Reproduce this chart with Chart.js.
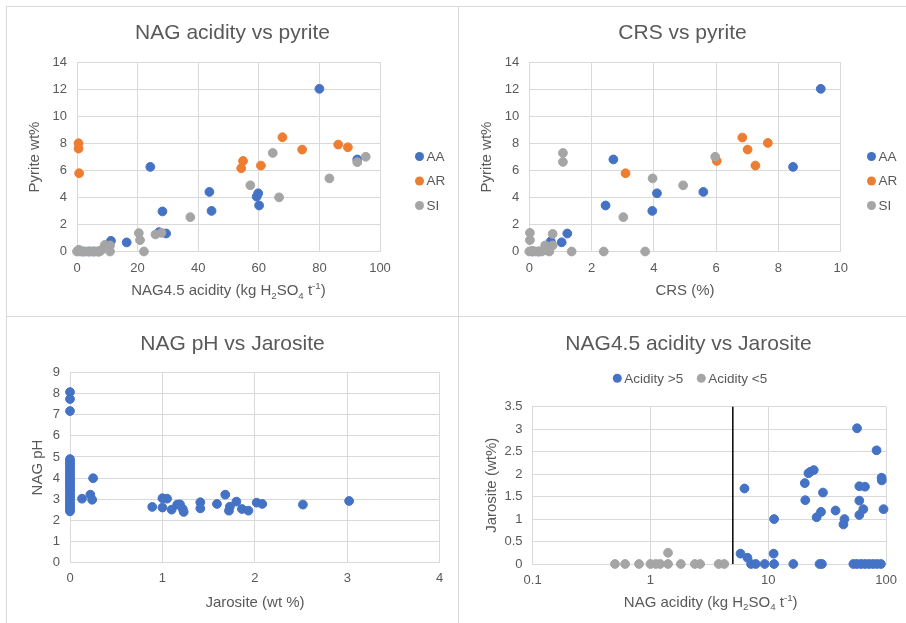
<!DOCTYPE html>
<html><head><meta charset="utf-8">
<script src="https://cdn.jsdelivr.net/npm/chart.js@4/dist/chart.umd.min.js"></script>
<style>
html,body{margin:0;padding:0;background:#fff;}
#wrap{position:relative;width:906px;height:623px;overflow:hidden;background:#fff;}
.panel{position:absolute;border:1px solid #d9d9d9;box-sizing:border-box;}
canvas{position:absolute;left:0;top:0;}
</style></head><body>
<div id="wrap">
<div class="panel" style="left:6px;top:6px;width:453px;height:311px"></div>
<div class="panel" style="left:458px;top:6px;width:460px;height:311px"></div>
<div class="panel" style="left:6px;top:316px;width:453px;height:320px"></div>
<div class="panel" style="left:458px;top:316px;width:460px;height:320px"></div>
<canvas id="c1" width="906" height="623"></canvas>
<canvas id="c2" width="906" height="623"></canvas>
<canvas id="c3" width="906" height="623"></canvas>
<canvas id="c4" width="906" height="623"></canvas>
</div>
<script>
// ---------- DATA ----------
// Panel 1: NAG4.5 acidity vs pyrite
const nagAA_x = [80, 24.2, 92.5, 43.7, 44.4, 59.8, 59.3, 60.1, 28.2, 27.1, 29.4, 11.2, 16.4, 2, 4, 5.5, 7];
const nagAA_y = [12.02, 6.25, 6.8, 4.4, 3.0, 4.3, 4.05, 3.4, 2.96, 1.43, 1.33, 0.79, 0.67, 0, 0, 0, 0];
const nagAR_x = [0.5, 0.5, 0.7, 67.8, 74.3, 86.2, 89.4, 54.8, 54.2, 60.7];
const nagAR_y = [8.0, 7.6, 5.78, 8.44, 7.53, 7.9, 7.7, 6.69, 6.15, 6.35];
const nagSI_x = [64.6, 95.3, 92.5, 83.3, 57.2, 66.7, 37.4, 20.4, 20.8, 22.1, 25.9, 27.9, 9.2, 10.9, 10.9, 0.6, 0, 1, 2, 3, 4, 5, 6, 7, 8, 7.5];
const nagSI_y = [7.28, 7.0, 6.6, 5.4, 4.89, 4.0, 2.54, 1.36, 0.84, 0, 1.26, 1.38, 0.49, 0.45, 0, 0.13, 0, 0, 0, 0, 0, 0, 0, 0, 0.1, 0];
// Panel 2: CRS vs pyrite
const crsAA_x = [9.36, 8.47, 2.7, 5.59, 4.1, 3.95, 2.45, 1.22, 1.04, 0.69, 0.1, 0.3];
const crsAA_y = [12.02, 6.25, 6.8, 4.4, 4.3, 3.0, 3.4, 1.33, 0.68, 0.75, 0, 0];
const crsAR_x = [6.84, 7.66, 7.01, 7.26, 6.02, 3.09];
const crsAR_y = [8.42, 8.02, 7.53, 6.35, 6.69, 5.78];
const crsSI_x = [1.08, 1.08, 5.97, 3.96, 4.94, 3.02, 0.75, 0.02, 0.02, 0.75, 0.51, 1.36, 2.39, 3.72, 0.64, 0, 0.1, 0.2, 0.3, 0.4, 0.5, 0.55];
const crsSI_y = [7.28, 6.62, 7.0, 5.4, 4.89, 2.54, 1.3, 1.38, 0.84, 0.45, 0.45, 0, 0, 0, 0, 0, 0.05, 0, 0, 0, 0.1, 0.2];
// Panel 3: NAG pH vs Jarosite
const jarX = [0, 0, 0, 0, 0, 0, 0, 0, 0, 0, 0, 0, 0, 0, 0, 0, 0, 0, 0, 0, 0, 0, 0, 0, 0, 0, 0, 0, 0,
  0.13, 0.22, 0.24, 0.25, 0.89, 1.0, 1.05, 1.0, 1.1, 1.16, 1.19, 1.22, 1.23, 1.41, 1.41, 1.59, 1.68, 1.73, 1.72, 1.8, 1.86, 1.93, 2.02, 2.08, 2.52, 3.02];
const phY = [8.08, 7.75, 7.18, 4.9, 4.8, 4.7, 4.6, 4.5, 4.4, 4.3, 4.2, 4.1, 4.0, 3.9, 3.8, 3.7, 3.6, 3.5, 3.4, 3.3, 3.2, 3.1, 3.0, 2.9, 2.8, 2.7, 2.6, 2.5, 2.42,
  3.02, 3.21, 2.97, 3.99, 2.63, 3.04, 3.02, 2.6, 2.5, 2.74, 2.75, 2.53, 2.39, 2.85, 2.56, 2.77, 3.21, 2.64, 2.45, 2.88, 2.53, 2.45, 2.83, 2.77, 2.74, 2.91];
// Panel 4: NAG acidity vs Jarosite (log x)
const hiAcid_x = [5.81, 6.65, 6.28, 7.14, 7.82, 9.31, 11.2, 11.1, 11.2, 16.3, 20.4, 20.6, 21.9, 22.7, 24.3, 25.7, 28.0, 29.1, 27.2, 28.5, 37.2, 43.4, 44.3, 56.6, 82.9, 59.2, 66.1, 59.2, 64.0, 59.2, 91.4, 91.9, 95.0,
  52.7, 56.6, 61.2, 66.1, 71.4, 77.2, 83.4, 90.2];
const hiJar_y = [0.23, 0.14, 1.68, 0, 0, 0, 0, 0.23, 1.0, 0, 1.8, 1.42, 2.02, 2.05, 2.09, 1.04, 1.16, 1.59, 0, 0, 1.19, 0.88, 1.0, 3.02, 2.53, 1.73, 1.72, 1.41, 1.22, 1.09, 1.92, 1.86, 1.22,
  0, 0, 0, 0, 0, 0, 0, 0];
const loAcid_x = [0.50, 0.61, 0.80, 1.0, 1.11, 1.21, 1.41, 1.81, 2.38, 2.64, 3.79, 4.23, 1.41];
const loJar_y = [0, 0, 0, 0, 0, 0, 0, 0, 0, 0, 0, 0, 0.25];
const cutoffX = [5, 5];
const cutoffY = [0, 3.5];
// Tick labels
const p1XTicks = [0, 20, 40, 60, 80, 100];
const p1YTicks = [0, 2, 4, 6, 8, 10, 12, 14];
const p2XTicks = [0, 2, 4, 6, 8, 10];
const p2YTicks = [0, 2, 4, 6, 8, 10, 12, 14];
const p3XTicks = [0, 1, 2, 3, 4];
const p3YTicks = [0, 1, 2, 3, 4, 5, 6, 7, 8, 9];
const p4XTicks = [0.1, 1, 10, 100];
const p4YTicks = [0, 0.5, 1, 1.5, 2, 2.5, 3, 3.5];

// ---------- STYLE ----------
const FONT = '"Liberation Sans", Arial, sans-serif';
const TXT = '#595959', GRID = '#d9d9d9';
const BLUE = '#4472C4', ORANGE = '#ED7D31', GRAY = '#A5A5A5';
const W = 906, H = 623;

function pts(xs, ys) { return xs.map((x, i) => ({ x: x, y: ys[i] })); }

function richWidth(ctx, segs, size) {
  let w = 0;
  segs.forEach(s => {
    const fs = s[1] ? size * 0.65 : size;
    ctx.font = fs + 'px ' + FONT;
    w += ctx.measureText(s[0]).width;
  });
  return w;
}
function drawRich(ctx, segs, cx, y, size) {
  const w = richWidth(ctx, segs, size);
  let x = cx - w / 2;
  ctx.textAlign = 'left';
  segs.forEach(s => {
    const fs = s[1] ? size * 0.65 : size;
    ctx.font = fs + 'px ' + FONT;
    const dy = s[1] === 'sub' ? size * 0.25 : (s[1] === 'sup' ? -size * 0.4 : 0);
    ctx.fillText(s[0], x, y + dy);
    x += ctx.measureText(s[0]).width;
  });
}

const deco = {
  id: 'deco',
  afterDraw(chart, args, o) {
    const ctx = chart.ctx;
    ctx.save();
    ctx.fillStyle = TXT;
    if (o.title) {
      ctx.font = '21px ' + FONT;
      ctx.textAlign = 'center';
      ctx.textBaseline = 'alphabetic';
      ctx.fillText(o.title.text, o.title.x, o.title.y);
    }
    (o.legend || []).forEach(it => {
      ctx.beginPath();
      ctx.fillStyle = it.c;
      ctx.arc(it.x, it.y, 4.5, 0, Math.PI * 2);
      ctx.fill();
      ctx.fillStyle = TXT;
      ctx.font = '13.5px ' + FONT;
      ctx.textAlign = 'left';
      ctx.textBaseline = 'middle';
      ctx.fillText(it.t, it.x + 7, it.y + 0.5);
    });
    if (o.ytitle) {
      ctx.save();
      ctx.translate(o.ytitle.x, o.ytitle.y);
      ctx.rotate(-Math.PI / 2);
      ctx.textBaseline = 'middle';
      drawRich(ctx, o.ytitle.segs, 0, 0, 15);
      ctx.restore();
    }
    if (o.xtitle) {
      ctx.textBaseline = 'alphabetic';
      drawRich(ctx, o.xtitle.segs, o.xtitle.x, o.xtitle.y, 15);
    }
    ctx.restore();
  }
};

function axis(type, min, max, ticks, pad, fit) {
  return {
    type: type, min: min, max: max,
    afterBuildTicks(s) { s.ticks = ticks.map(v => ({ value: v })); },
    afterFit: fit,
    ticks: { color: TXT, font: { family: FONT, size: 13 }, padding: pad, callback: v => String(v), autoSkip: false, maxRotation: 0 },
    grid: { color: GRID, lineWidth: 1, drawTicks: false },
    border: { color: GRID, width: 1 }
  };
}

function ds(label, xs, ys, color, order) {
  return { label: label, data: pts(xs, ys), backgroundColor: color, borderColor: color, borderWidth: 1,
    pointRadius: 4.4, pointHoverRadius: 4.4, showLine: false, clip: false, order: order };
}

function makeChart(id, area, xs, ys, datasets, d) {
  return new Chart(document.getElementById(id), {
    type: 'scatter',
    data: { datasets: datasets },
    options: {
      responsive: false, animation: false, events: [],
      layout: { padding: { left: 0, top: area.t, right: W - area.r, bottom: 0 } },
      scales: {
        x: Object.assign(xs, { position: 'bottom', afterFit(s) { s.height = H - area.b; } }),
        y: Object.assign(ys, { position: 'left', afterFit(s) { s.width = area.l; } })
      },
      plugins: { legend: { display: false }, title: { display: false }, tooltip: { enabled: false }, deco: d }
    },
    plugins: [deco]
  });
}

const xt1 = [['NAG4.5 acidity (kg H'], ['2', 'sub'], ['SO'], ['4', 'sub'], [' t'], ['-1', 'sup'], [')']];
const xt4 = [['NAG acidity (kg H'], ['2', 'sub'], ['SO'], ['4', 'sub'], [' t'], ['-1', 'sup'], [')']];

makeChart('c1', { l: 77, t: 62, r: 380, b: 251.5 },
  axis('linear', 0, 100, p1XTicks, 9), axis('linear', 0, 14, p1YTicks, 10),
  [ds('AA', nagAA_x, nagAA_y, BLUE, 2), ds('AR', nagAR_x, nagAR_y, ORANGE, 1), ds('SI', nagSI_x, nagSI_y, GRAY, 0)],
  { title: { text: 'NAG acidity vs pyrite', x: 232.5, y: 39 },
    legend: [{ c: BLUE, t: 'AA', x: 419.5, y: 156.5 }, { c: ORANGE, t: 'AR', x: 419.5, y: 181 }, { c: GRAY, t: 'SI', x: 419.5, y: 205.5 }],
    ytitle: { segs: [['Pyrite wt%']], x: 35, y: 157 },
    xtitle: { segs: xt1, x: 228.5, y: 295 } });

makeChart('c2', { l: 529.3, t: 62, r: 840.7, b: 251.5 },
  axis('linear', 0, 10, p2XTicks, 9), axis('linear', 0, 14, p2YTicks, 10),
  [ds('AA', crsAA_x, crsAA_y, BLUE, 2), ds('AR', crsAR_x, crsAR_y, ORANGE, 1), ds('SI', crsSI_x, crsSI_y, GRAY, 0)],
  { title: { text: 'CRS vs pyrite', x: 682.5, y: 39 },
    legend: [{ c: BLUE, t: 'AA', x: 871.5, y: 156.5 }, { c: ORANGE, t: 'AR', x: 871.5, y: 181 }, { c: GRAY, t: 'SI', x: 871.5, y: 205.5 }],
    ytitle: { segs: [['Pyrite wt%']], x: 487, y: 157 },
    xtitle: { segs: [['CRS (%)']], x: 685, y: 295 } });

makeChart('c3', { l: 70, t: 372.7, r: 439.7, b: 562.3 },
  axis('linear', 0, 4, p3XTicks, 8), axis('linear', 0, 9, p3YTicks, 10),
  [ds('NAG pH', jarX, phY, BLUE, 0)],
  { title: { text: 'NAG pH vs Jarosite', x: 232.5, y: 349.5 },
    ytitle: { segs: [['NAG pH']], x: 37.5, y: 467.5 },
    xtitle: { segs: [['Jarosite (wt %)']], x: 255, y: 606.5 } });

const cutLine = { label: 'cutoff', data: pts(cutoffX, cutoffY), borderColor: '#000000', backgroundColor: '#000000',
  borderWidth: 1.5, pointRadius: 0, showLine: true, clip: false, order: 2 };
makeChart('c4', { l: 532.6, t: 406.7, r: 888.7, b: 564 },
  axis('logarithmic', 0.1, 100, p4XTicks, 9), axis('linear', 0, 3.5, p4YTicks, 10),
  [ds('Acidity >5', hiAcid_x, hiJar_y, BLUE, 0), ds('Acidity <5', loAcid_x, loJar_y, GRAY, 1), cutLine],
  { title: { text: 'NAG4.5 acidity vs Jarosite', x: 688.5, y: 349.5 },
    legend: [{ c: BLUE, t: 'Acidity >5', x: 617.3, y: 378.3 }, { c: GRAY, t: 'Acidity <5', x: 701.3, y: 378.3 }],
    ytitle: { segs: [['Jarosite (wt%)']], x: 492, y: 485.3 },
    xtitle: { segs: xt4, x: 710.7, y: 606.7 } });
</script>
</body></html>
